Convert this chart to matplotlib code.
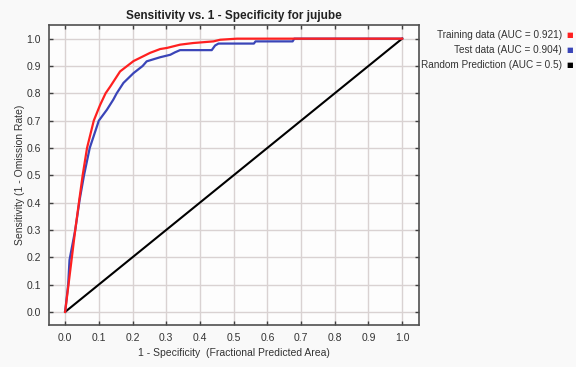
import matplotlib
matplotlib.use("Agg")
import matplotlib.pyplot as plt

plt.rcParams['font.family'] = ['Liberation Sans', 'DejaVu Sans']

# ROC curve values
train_fpr = [0, 0.01, 0.02, 0.03, 0.042, 0.052, 0.065, 0.085, 0.098, 0.104, 0.12, 0.134,
             0.163, 0.203, 0.252, 0.282, 0.302, 0.341, 0.38, 0.44, 0.46, 0.51, 0.6, 0.8, 1.0]
train_tpr = [0, 0.10, 0.20, 0.30, 0.41, 0.50, 0.60, 0.70, 0.74, 0.758, 0.80, 0.825,
             0.88, 0.918, 0.948, 0.962, 0.966, 0.978, 0.984, 0.99, 0.996, 1.0, 1.0, 1.0, 1.0]

test_fpr = [0, 0.009, 0.013, 0.016, 0.03, 0.043, 0.056, 0.073, 0.10, 0.124, 0.143, 0.153,
            0.173, 0.203, 0.23, 0.242, 0.282, 0.312, 0.326, 0.341, 0.435, 0.445, 0.455,
            0.56, 0.565, 0.675, 0.68, 1.0]
test_tpr = [0, 0.10, 0.19, 0.21, 0.30, 0.41, 0.50, 0.60, 0.70, 0.74, 0.777, 0.80,
            0.838, 0.874, 0.90, 0.917, 0.932, 0.941, 0.95, 0.958, 0.958, 0.975, 0.982,
            0.982, 0.99, 0.99, 1.0, 1.0]

random_fpr = [0, 1]
random_tpr = [0, 1]

legend_labels = ["Training data (AUC = 0.921)", "Test data (AUC = 0.904)",
                 "Random Prediction (AUC = 0.5)"]
legend_colors = ["#ff2020", "#3a45b8", "#000000"]

ticks = [0.0, 0.1, 0.2, 0.3, 0.4, 0.5, 0.6, 0.7, 0.8, 0.9, 1.0]

fig = plt.figure(figsize=(5.76, 3.67), dpi=100, facecolor="#f9f9f9")
ax = fig.add_axes([0.085, 0.1144, 0.6424, 0.8175], facecolor="#fdfdfd")

ax.plot(test_fpr, test_tpr, color=legend_colors[1], lw=1.6, zorder=3)
ax.plot(train_fpr, train_tpr, color=legend_colors[0], lw=1.6, zorder=4)
ax.plot(random_fpr, random_tpr, color=legend_colors[2], lw=1.5, zorder=2)

ax.set_xlim(-0.048, 1.05)
ax.set_ylim(-0.048, 1.05)
ax.set_xticks(ticks)
ax.set_yticks(ticks)
ax.set_xticklabels([f"{t:.1f}" for t in ticks])
ax.set_yticklabels([f"{t:.1f}" for t in ticks])
ax.grid(True, color="#d9d2d2", lw=1.0, zorder=0)
ax.tick_params(direction="in", length=3, width=1, color="#404040",
               labelsize=7.5, labelcolor="#333333", top=True, right=True, pad=6)
for s in ax.spines.values():
    s.set_color("#505050")
    s.set_linewidth(1.2)

ax.set_title("Sensitivity vs. 1 - Specificity for jujube", fontsize=8.5,
             fontweight="bold", color="#222222", pad=4)
ax.set_xlabel("1 - Specificity  (Fractional Predicted Area)", fontsize=7.5,
              color="#333333", labelpad=3)
ax.set_ylabel("Sensitivity (1 - Omission Rate)", fontsize=7.5,
              color="#333333", labelpad=1)

# legend on the right: right-aligned text with small coloured squares
for i, (lab, col) in enumerate(zip(legend_labels, legend_colors)):
    y = 1 - (35 + 15 * i) / 367
    fig.text(562 / 576, y, lab, ha="right", va="center", fontsize=7.2, color="#333333")
    fig.text(566 / 576, y, "\u25a0", ha="left", va="center", fontsize=5,
             color=col, family="DejaVu Sans")

fig.savefig("out.png", dpi=100, facecolor=fig.get_facecolor())
